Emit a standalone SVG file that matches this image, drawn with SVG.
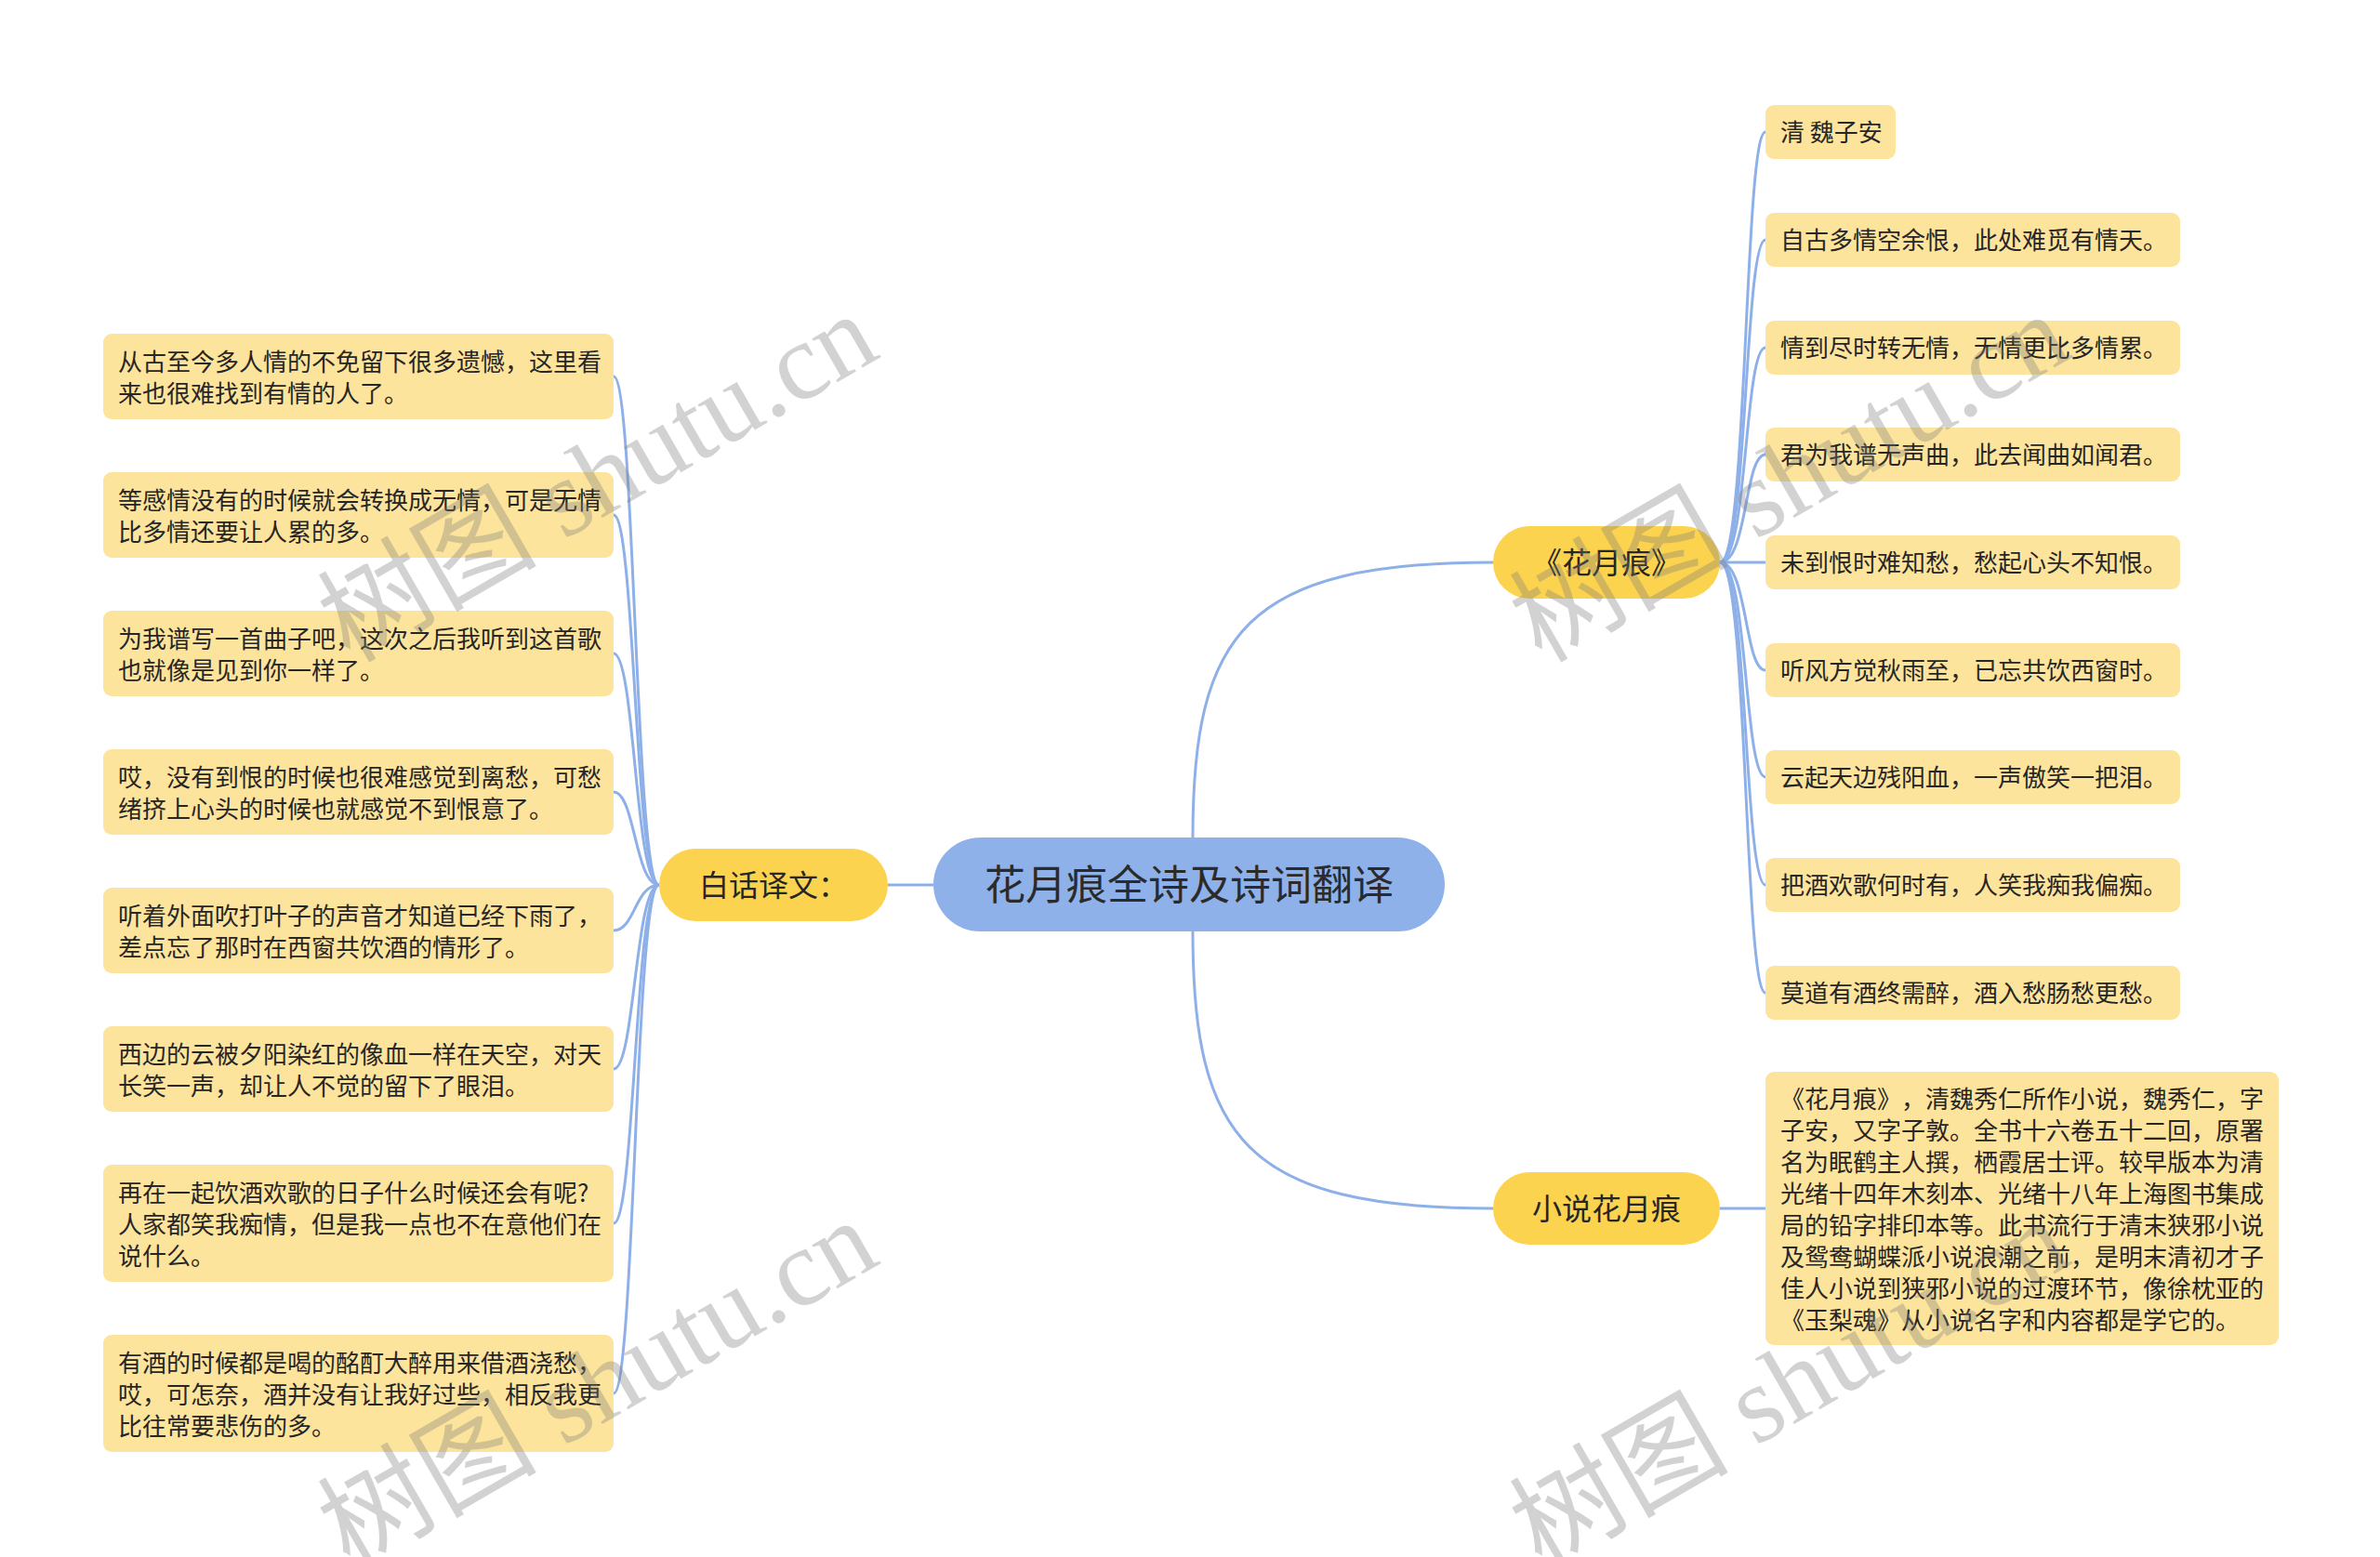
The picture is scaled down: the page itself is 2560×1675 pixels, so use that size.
<svg xmlns="http://www.w3.org/2000/svg" width="2560" height="1675" viewBox="0 0 2560 1675">
<style>
.leaf{fill:#FDE49C}
.branch{fill:#FCD34F}
.root{fill:#8FB1E9}
text{font-family:"Noto Sans CJK SC","Noto Sans",sans-serif;fill:#262626;text-spacing-trim:space-all}
.t26{font-size:26px}
.t32{font-size:32px}
.t44{font-size:44px;fill:#2b2b2b}
.edge{fill:none;stroke:#8EB0E8;stroke-width:3}
.wm{font-family:"Liberation Serif","Noto Sans CJK SC",serif;font-size:118px;fill:#7a7a7a;opacity:0.33}
</style>
<rect width="2560" height="1675" fill="#ffffff"/>
<g id="connectors">
<path class="edge" d="M1283 901 C1283 680 1340 605 1606 605"/>
<path class="edge" d="M1283 1002 C1283 1225 1340 1300 1606 1300"/>
<path class="edge" d="M1004 952 L955 952"/>
<path class="edge" d="M709 952 C683 952 683 405 660 405"/>
<path class="edge" d="M709 952 C683 952 683 554 660 554"/>
<path class="edge" d="M709 952 C683 952 683 703 660 703"/>
<path class="edge" d="M709 952 C683 952 683 852 660 852"/>
<path class="edge" d="M709 952 C683 952 683 1001 660 1001"/>
<path class="edge" d="M709 952 C683 952 683 1150 660 1150"/>
<path class="edge" d="M709 952 C683 952 683 1316 660 1316"/>
<path class="edge" d="M709 952 C683 952 683 1499 660 1499"/>
<path class="edge" d="M1850 605 C1880 605 1876 142 1899 142"/>
<path class="edge" d="M1850 605 C1880 605 1876 258 1899 258"/>
<path class="edge" d="M1850 605 C1880 605 1876 374 1899 374"/>
<path class="edge" d="M1850 605 C1880 605 1876 489 1899 489"/>
<path class="edge" d="M1850 605 L1899 605"/>
<path class="edge" d="M1850 605 C1880 605 1876 721 1899 721"/>
<path class="edge" d="M1850 605 C1880 605 1876 836 1899 836"/>
<path class="edge" d="M1850 605 C1880 605 1876 952 1899 952"/>
<path class="edge" d="M1850 605 C1880 605 1876 1068 1899 1068"/>
<path class="edge" d="M1850 1300 L1899 1300"/>
</g>
<g id="root">
<rect class="root" x="1004" y="901" width="550" height="101" rx="50.5"/>
<text class="t44" x="1279" y="968" text-anchor="middle">花月痕全诗及诗词翻译</text>
</g>
<g id="branch-baihua">
<rect class="branch" x="709" y="913" width="246" height="78" rx="39"/>
<text class="t32" x="752" y="964">白话译文：</text>
</g>
<g id="branch-poem">
<rect class="branch" x="1606" y="566" width="244" height="78" rx="39"/>
<text class="t32" x="1728" y="617" text-anchor="middle">《花月痕》</text>
</g>
<g id="branch-novel">
<rect class="branch" x="1606" y="1261" width="244" height="78" rx="39"/>
<text class="t32" x="1728" y="1312" text-anchor="middle">小说花月痕</text>
</g>
<g id="left-1">
<rect class="leaf" x="111" y="359" width="549" height="92" rx="9"/>
<text class="t26" x="127" y="399">从古至今多人情的不免留下很多遗憾，这里看</text>
<text class="t26" x="127" y="433">来也很难找到有情的人了。</text>
</g>
<g id="left-2">
<rect class="leaf" x="111" y="508" width="549" height="92" rx="9"/>
<text class="t26" x="127" y="548">等感情没有的时候就会转换成无情，可是无情</text>
<text class="t26" x="127" y="582">比多情还要让人累的多。</text>
</g>
<g id="left-3">
<rect class="leaf" x="111" y="657" width="549" height="92" rx="9"/>
<text class="t26" x="127" y="697">为我谱写一首曲子吧，这次之后我听到这首歌</text>
<text class="t26" x="127" y="731">也就像是见到你一样了。</text>
</g>
<g id="left-4">
<rect class="leaf" x="111" y="806" width="549" height="92" rx="9"/>
<text class="t26" x="127" y="846">哎，没有到恨的时候也很难感觉到离愁，可愁</text>
<text class="t26" x="127" y="880">绪挤上心头的时候也就感觉不到恨意了。</text>
</g>
<g id="left-5">
<rect class="leaf" x="111" y="955" width="549" height="92" rx="9"/>
<text class="t26" x="127" y="995">听着外面吹打叶子的声音才知道已经下雨了，</text>
<text class="t26" x="127" y="1029">差点忘了那时在西窗共饮酒的情形了。</text>
</g>
<g id="left-6">
<rect class="leaf" x="111" y="1104" width="549" height="92" rx="9"/>
<text class="t26" x="127" y="1144">西边的云被夕阳染红的像血一样在天空，对天</text>
<text class="t26" x="127" y="1178">长笑一声，却让人不觉的留下了眼泪。</text>
</g>
<g id="left-7">
<rect class="leaf" x="111" y="1253" width="549" height="126" rx="9"/>
<text class="t26" x="127" y="1293">再在一起饮酒欢歌的日子什么时候还会有呢?</text>
<text class="t26" x="127" y="1327">人家都笑我痴情，但是我一点也不在意他们在</text>
<text class="t26" x="127" y="1361">说什么。</text>
</g>
<g id="left-8">
<rect class="leaf" x="111" y="1436" width="549" height="126" rx="9"/>
<text class="t26" x="127" y="1476">有酒的时候都是喝的酩酊大醉用来借酒浇愁，</text>
<text class="t26" x="127" y="1510">哎，可怎奈，酒并没有让我好过些，相反我更</text>
<text class="t26" x="127" y="1544">比往常要悲伤的多。</text>
</g>
<g id="poem-1">
<rect class="leaf" x="1899" y="113" width="140" height="58" rx="9"/>
<text class="t26" x="1915" y="152">清 魏子安</text>
</g>
<g id="poem-2">
<rect class="leaf" x="1899" y="229" width="446" height="58" rx="9"/>
<text class="t26" x="1915" y="268">自古多情空余恨，此处难觅有情天。</text>
</g>
<g id="poem-3">
<rect class="leaf" x="1899" y="345" width="446" height="58" rx="9"/>
<text class="t26" x="1915" y="384">情到尽时转无情，无情更比多情累。</text>
</g>
<g id="poem-4">
<rect class="leaf" x="1899" y="460" width="446" height="58" rx="9"/>
<text class="t26" x="1915" y="499">君为我谱无声曲，此去闻曲如闻君。</text>
</g>
<g id="poem-5">
<rect class="leaf" x="1899" y="576" width="446" height="58" rx="9"/>
<text class="t26" x="1915" y="615">未到恨时难知愁，愁起心头不知恨。</text>
</g>
<g id="poem-6">
<rect class="leaf" x="1899" y="692" width="446" height="58" rx="9"/>
<text class="t26" x="1915" y="731">听风方觉秋雨至，已忘共饮西窗时。</text>
</g>
<g id="poem-7">
<rect class="leaf" x="1899" y="807" width="446" height="58" rx="9"/>
<text class="t26" x="1915" y="846">云起天边残阳血，一声傲笑一把泪。</text>
</g>
<g id="poem-8">
<rect class="leaf" x="1899" y="923" width="446" height="58" rx="9"/>
<text class="t26" x="1915" y="962">把酒欢歌何时有，人笑我痴我偏痴。</text>
</g>
<g id="poem-9">
<rect class="leaf" x="1899" y="1039" width="446" height="58" rx="9"/>
<text class="t26" x="1915" y="1078">莫道有酒终需醉，酒入愁肠愁更愁。</text>
</g>
<g id="novel-1">
<rect class="leaf" x="1899" y="1153" width="552" height="294" rx="9"/>
<text class="t26" x="1915" y="1192">《花月痕》，清魏秀仁所作小说，魏秀仁，字</text>
<text class="t26" x="1915" y="1226">子安，又字子敦。全书十六卷五十二回，原署</text>
<text class="t26" x="1915" y="1260">名为眠鹤主人撰，栖霞居士评。较早版本为清</text>
<text class="t26" x="1915" y="1294">光绪十四年木刻本、光绪十八年上海图书集成</text>
<text class="t26" x="1915" y="1328">局的铅字排印本等。此书流行于清末狭邪小说</text>
<text class="t26" x="1915" y="1362">及鸳鸯蝴蝶派小说浪潮之前，是明末清初才子</text>
<text class="t26" x="1915" y="1396">佳人小说到狭邪小说的过渡环节，像徐枕亚的</text>
<text class="t26" x="1915" y="1430">《玉梨魂》从小说名字和内容都是学它的。</text>
</g>
<g id="watermarks">
<text class="wm" x="376" y="714" transform="rotate(-30 376 714)">树图 shutu.cn</text>
<text class="wm" x="376" y="1689" transform="rotate(-30 376 1689)">树图 shutu.cn</text>
<text class="wm" x="1658" y="714" transform="rotate(-30 1658 714)">树图 shutu.cn</text>
<text class="wm" x="1658" y="1689" transform="rotate(-30 1658 1689)">树图 shutu.cn</text>
</g>
</svg>
